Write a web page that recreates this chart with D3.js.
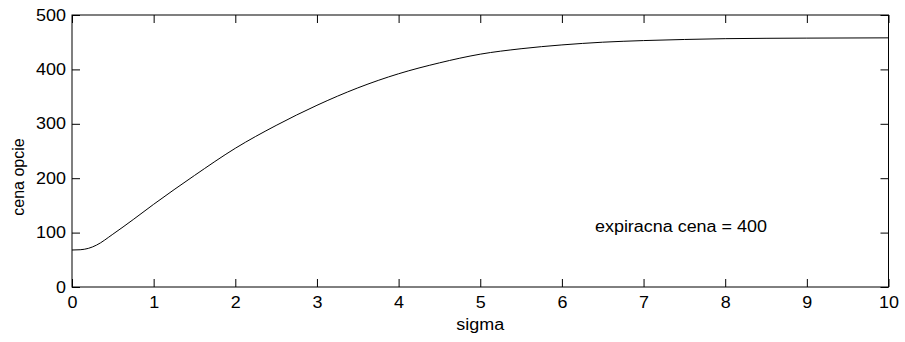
<!DOCTYPE html>
<html>
<head>
<meta charset="utf-8">
<script src="https://cdn.jsdelivr.net/npm/d3@7"></script>
<style>
  body { margin: 0; background: #fff; }
  text { font-family: "Liberation Sans", Arial, sans-serif; }
</style>
</head>
<body>
<div id="chart"></div>
<script>
  var width = 905,
      height = 342;

  // values
  var sigma = [0, 0.1, 0.2, 0.3, 0.5, 0.75, 1, 1.5, 2, 2.5, 3, 3.5, 4, 4.5, 5, 5.5, 6, 6.5, 7, 7.5, 8, 9, 10];
  var cena  = [68, 68.5, 71, 77, 97, 124, 152, 205, 255, 297, 334, 366, 392, 412, 428, 438, 445, 450, 453, 455, 456.5, 457.5, 458];
  var xTicks = [0, 1, 2, 3, 4, 5, 6, 7, 8, 9, 10];
  var yTicks = [0, 100, 200, 300, 400, 500];

  var x = d3.scaleLinear().domain([0, 10]).range([72, 888.5]);
  var y = d3.scaleLinear().domain([0, 500]).range([287, 15]);

  var svg = d3.select("#chart").append("svg")
      .attr("width", width)
      .attr("height", height);

  // the reference text is a bit wider than it is tall
  function stretch(sel) {
    sel.each(function() {
      var w = this.getComputedTextLength();
      d3.select(this)
        .attr("textLength", w * 1.12)
        .attr("lengthAdjust", "spacingAndGlyphs");
    });
  }

  // ticks inward on all four sides
  svg.append("g")
      .attr("transform", "translate(0," + y(0) + ")")
      .call(d3.axisBottom(x).tickValues(xTicks).tickSize(-8).tickPadding(10).tickFormat(d3.format("d")));
  svg.append("g")
      .attr("transform", "translate(0," + y(500) + ")")
      .call(d3.axisTop(x).tickValues(xTicks).tickSize(-8).tickFormat(""));
  svg.append("g")
      .attr("transform", "translate(" + x(0) + ",0)")
      .call(d3.axisLeft(y).tickValues(yTicks).tickSize(-8).tickPadding(6).tickFormat(d3.format("d")));
  svg.append("g")
      .attr("transform", "translate(" + x(10) + ",0)")
      .call(d3.axisRight(y).tickValues(yTicks).tickSize(-8).tickFormat(""));

  svg.selectAll(".domain").remove();
  svg.selectAll(".tick line").attr("stroke", "#000");
  svg.selectAll(".tick text")
      .attr("fill", "#000")
      .style("font-size", "16px")
      .call(stretch);

  svg.append("rect")
      .attr("x", x(0))
      .attr("y", y(500))
      .attr("width", x(10) - x(0))
      .attr("height", y(0) - y(500))
      .attr("fill", "none")
      .attr("stroke", "#000")
      .attr("stroke-width", 1);

  var line = d3.line()
      .x(function(d, i) { return x(sigma[i]); })
      .y(function(d) { return y(d); })
      .curve(d3.curveMonotoneX);

  svg.append("path")
      .datum(cena)
      .attr("d", line)
      .attr("fill", "none")
      .attr("stroke", "#000")
      .attr("stroke-width", 1);

  svg.append("text")
      .attr("x", (x(0) + x(10)) / 2)
      .attr("y", 330)
      .attr("text-anchor", "middle")
      .style("font-size", "16px")
      .text("sigma")
      .call(stretch);

  svg.append("text")
      .attr("transform", "translate(24,177) rotate(-90)")
      .attr("text-anchor", "middle")
      .style("font-size", "16px")
      .text("cena opcie");

  svg.append("text")
      .attr("x", 595)
      .attr("y", 232)
      .style("font-size", "16px")
      .text("expiracna cena = 400")
      .call(stretch);
</script>
</body>
</html>
